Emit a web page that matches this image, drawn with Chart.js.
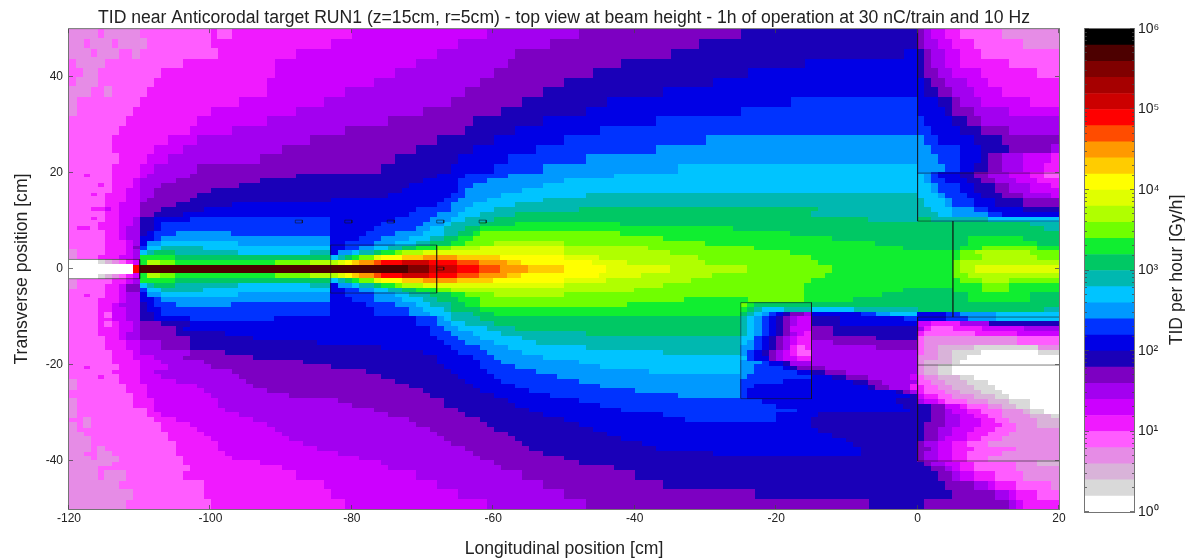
<!DOCTYPE html>
<html>
<head>
<meta charset="utf-8">
<style>
html,body{margin:0;padding:0;background:#fff;width:1185px;height:560px;overflow:hidden}
canvas{position:absolute;top:0}
</style>
<script src="https://cdn.jsdelivr.net/npm/chart.js@4/dist/chart.umd.min.js"></script>
</head>
<body>
<canvas id="map" width="1185" height="560" style="left:0"></canvas>
<canvas id="cbar" width="125" height="560" style="left:1060px"></canvas>
<script>
// colour levels, white (1 Gy/h) to black (1e6 Gy/h), 5 per decade
var levelColors = ['#ffffff','#d9d9d9','#d9b3d9','#e68ce6','#ff5cff','#f01aff','#cc00ff','#a300f0','#7d00c2','#1a00b8',
  '#0000e6','#0033ff','#0099ff','#00c4ff','#00b8b0','#00c864','#10ee30','#70ff00','#b0ff00','#e0ff00',
  '#ffff00','#ffcc00','#ff9900','#ff4c00','#ff0000','#cc0000','#a60000','#800000','#4d0000','#000000'];
var levelEdges = [1,1.58,2.51,3.98,6.31,10,15.8,25.1,39.8,63.1,100,158,251,398,631,1000,1580,2510,3980,6310,
  10000,15800,25100,39800,63100,100000,158000,251000,398000,631000,1000000];

// each row: level, x where that level ends, level, x ... starting from x=-120
// rowSpans: how many 1cm cells tall each row is, from y=50 downwards
var rowSpans = [2,2,2,2,2,2,2,2,2,2,2,2,2,2,2,
  1,1,1,1,1,1,1,1,1,1,1,1,1,1,1,1,1,1,1,1,
  1,1,1,1,1,1,1,1,1,1,1,1,1,1,1,1,1,1,1,1,1,1,1,1,1,1,1,1,1,1,1,1,1,1,1,1,1,1,1,1,1,1,
  2,2,2,2];
var rowRuns = [
[3,-116,4,-115,3,-110,4,-100,5,-99,4,-97,5,-80,6,-61,7,-48,8,-25,9,0,8,1,7,2,6,4,5,6,4,12,3,20],
[3,-118,4,-117,3,-114,4,-113,3,-109,4,-100,5,-83,6,-65,7,-52,8,-31,9,0,8,1,7,3,6,5,5,8,4,15,3,20],
[3,-117,4,-116,3,-113,4,-111,3,-110,4,-99,5,-88,6,-68,7,-57,8,-35,9,-2,10,0,9,1,8,2,7,4,6,6,5,9,4,20],
[4,-119,3,-115,4,-104,5,-91,6,-71,7,-58,8,-42,9,-16,10,0,9,1,8,2,7,4,6,6,5,13,4,20],
[4,-118,3,-116,4,-107,5,-91,6,-74,7,-60,8,-46,9,-24,10,0,9,1,8,3,7,5,6,9,5,17,4,20],
[4,-119,3,-116,4,-108,5,-92,6,-77,7,-62,8,-50,9,-29,10,1,9,2,8,4,7,7,6,10,5,20],
[3,-117,4,-115,3,-114,4,-109,5,-92,6,-81,7,-64,8,-53,9,-36,10,1,9,3,8,5,7,8,6,12,5,20],
[3,-119,4,-110,5,-96,6,-84,7,-66,8,-56,9,-44,10,-18,11,0,10,3,9,5,8,6,7,9,6,16,5,20],
[3,-119,4,-111,5,-100,6,-88,7,-70,8,-59,9,-47,10,-25,11,0,10,4,9,5,8,8,7,13,6,20],
[4,-112,5,-102,6,-92,7,-75,8,-63,9,-53,10,-37,11,1,10,5,9,7,8,9,7,20],
[4,-113,5,-103,6,-97,7,-81,8,-64,9,-57,10,-45,11,2,10,6,9,9,8,13,7,20],
[4,-114,5,-106,6,-102,7,-86,8,-68,9,-60,10,-50,11,-30,12,1,11,3,10,8,9,12,8,20],
[4,-114,5,-108,6,-104,7,-90,8,-71,9,-63,10,-54,11,-37,12,2,11,6,10,9,9,13,8,19,7,20],
[4,-113,5,-109,6,-106,7,-93,8,-74,9,-65,10,-58,11,-47,12,3,11,6,10,9,9,10,8,12,7,15,6,19,5,20],
[4,-114,5,-110,6,-108,7,-102,8,-76,9,-66,10,-60,11,-53,12,-34,13,0,12,4,11,6,10,8,9,10,8,12,7,15,6,18,5,20],
[4,-118,5,-117,4,-114,5,-110,6,-109,7,-103,8,-88,9,-68,10,-64,11,-58,12,-43,13,1,12,2,11,3,10,6,9,8,8,10,7,13,6,16,5,18,4,20],
[4,-114,5,-111,6,-110,7,-105,8,-93,9,-70,10,-65,11,-61,12,-50,13,1,12,2,11,4,10,7,9,9,8,11,7,14,6,17,5,20],
[4,-116,5,-115,4,-114,5,-111,6,-110,7,-107,8,-96,9,-72,10,-65,11,-63,12,-53,13,2,12,3,11,6,10,8,9,11,8,13,7,16,6,19,5,20],
[4,-114,5,-112,6,-110,7,-108,8,-100,9,-73,10,-65,11,-64,12,-56,13,2,12,3,11,6,10,8,9,11,8,13,7,16,6,20],
[4,-117,5,-116,4,-115,5,-112,6,-110,7,-108,8,-102,9,-75,10,-66,11,-64,12,-59,13,-47,14,0,13,3,12,4,11,7,10,9,9,12,8,15,7,19,6,20],
[4,-115,5,-112,6,-110,7,-109,8,-103,9,-83,10,-67,11,-65,12,-61,13,-53,14,1,13,4,12,5,11,8,10,11,9,15,8,20],
[4,-115,5,-113,6,-110,8,-105,9,-97,10,-68,11,-66,12,-63,13,-57,14,1,13,4,12,5,11,8,10,11,9,15,8,20],
[4,-117,5,-115,6,-114,5,-113,6,-110,8,-107,9,-101,10,-71,11,-66,12,-64,13,-60,14,-48,15,-14,14,2,13,5,12,8,11,10,10,15,9,20],
[4,-115,5,-113,6,-110,8,-108,9,-104,10,-72,11,-68,12,-65,13,-62,14,-57,15,-15,14,3,13,5,12,10,11,12,10,20],
[4,-117,5,-116,4,-115,5,-113,6,-111,7,-110,9,-108,10,-103,11,-83,10,-74,11,-69,12,-66,13,-64,14,-60,15,-7,14,0,15,2,14,10,13,20],
[4,-116,5,-113,6,-111,7,-110,9,-108,10,-107,11,-83,10,-76,11,-70,12,-67,13,-66,14,-62,15,-57,16,-42,15,16,14,20],
[4,-119,5,-117,4,-116,5,-113,6,-112,7,-110,9,-108,10,-107,11,-83,10,-77,11,-71,12,-69,13,-67,14,-64,15,-62,16,-26,15,18,14,20],
[4,-115,5,-113,6,-112,7,-110,9,-109,10,-108,11,-105,12,-97,11,-83,10,-78,11,-74,12,-70,13,-67,14,-65,15,-63,16,-62,17,-42,16,-18,15,20],
[4,-115,5,-113,6,-112,7,-110,10,-108,11,-107,12,-83,10,-79,11,-76,12,-72,13,-69,14,-67,15,-65,16,-63,17,-36,16,-12,15,7,16,15,15,20],
[4,-115,5,-112,6,-111,7,-110,10,-109,12,-107,13,-96,12,-83,10,-81,11,-77,12,-74,13,-71,14,-69,15,-66,16,-64,17,-60,18,-50,17,-30,16,-6,15,7,16,17,15,20],
[4,-115,5,-112,6,-111,8,-110,11,-109,13,-107,14,-101,13,-83,10,-81,11,-79,12,-77,13,-75,14,-73,15,-71,16,-68,17,-66,18,-62,19,-50,18,-38,17,-23,16,-2,15,6,16,9,17,17,16,20],
[3,-119,4,-115,5,-112,6,-111,7,-110,13,-109,14,-108,15,-105,14,-96,13,-86,14,-83,10,-82,12,-80,13,-79,14,-77,15,-76,16,-74,17,-73,18,-70,19,-50,18,-35,17,-18,16,6,17,8,18,16,17,20],
[3,-119,4,-116,5,-113,6,-111,7,-110,16,-105,15,-83,13,-82,14,-81,15,-80,16,-79,17,-77,19,-76,20,-73,21,-70,22,-65,21,-59,20,-50,19,-45,18,-31,17,-15,16,6,17,9,18,17,17,20],
[0,-116,1,-115,2,-114,3,-113,4,-112,5,-111,6,-110,16,-109,18,-107,17,-105,16,-91,17,-86,18,-82,19,-81,20,-80,21,-79,22,-77,23,-76,24,-73,25,-69,24,-65,23,-62,22,-58,21,-56,20,-46,19,-41,18,-30,17,-14,16,5,17,6,18,20],
[0,-111,24,-110,28,-72,27,-69,25,-65,24,-62,23,-59,22,-55,21,-50,20,-44,19,-35,18,-24,17,-12,16,5,17,6,18,8,19,20],
[0,-111,24,-110,28,-72,27,-69,25,-65,24,-62,23,-59,22,-55,21,-50,20,-44,19,-35,18,-24,17,-12,16,5,17,6,18,8,19,20],
[0,-116,1,-115,2,-114,3,-113,4,-112,5,-111,6,-110,16,-109,18,-107,17,-105,16,-91,17,-86,18,-82,19,-81,20,-80,21,-79,22,-77,23,-76,24,-73,25,-69,24,-65,23,-62,22,-58,21,-56,20,-45,19,-39,18,-29,17,-13,16,5,17,7,18,20],
[3,-119,4,-114,5,-112,6,-111,7,-110,16,-105,15,-83,13,-82,14,-81,15,-80,16,-79,17,-77,19,-76,20,-73,21,-70,22,-65,21,-60,20,-50,19,-44,18,-32,17,-15,16,6,17,9,18,13,17,20],
[3,-119,4,-115,5,-113,6,-112,8,-110,13,-109,14,-108,15,-105,14,-96,13,-86,14,-83,10,-82,12,-80,13,-79,14,-77,15,-76,16,-74,17,-73,18,-70,19,-50,18,-36,17,-16,16,9,17,13,16,20],
[4,-115,5,-113,6,-112,8,-110,11,-109,13,-107,14,-101,13,-83,10,-81,11,-79,12,-77,13,-75,14,-73,15,-71,16,-68,17,-66,18,-40,17,-16,16,-2,15,5,16,9,17,13,16,20],
[4,-118,5,-117,4,-115,5,-113,6,-112,7,-110,10,-109,12,-107,13,-96,12,-83,10,-81,11,-77,12,-74,13,-72,14,-69,15,-66,16,-64,17,-60,18,-50,17,-16,16,-5,15,7,16,16,15,20],
[4,-116,5,-113,6,-112,7,-110,10,-108,11,-107,12,-83,10,-80,11,-77,12,-73,13,-70,14,-68,15,-65,16,-62,17,-33,16,-24,17,-16,16,-9,15,7,16,16,15,20],
[4,-116,5,-114,6,-113,7,-110,9,-109,10,-108,11,-105,12,-97,11,-83,10,-78,11,-74,12,-71,13,-69,14,-66,15,-64,16,-62,17,-41,16,-25,17,-24,16,-23,15,20],
[4,-116,5,-114,6,-112,7,-110,9,-109,10,-107,11,-83,10,-77,11,-72,12,-70,13,-67,14,-66,15,-62,16,-24,15,-23,14,-22,13,-19,14,-15,13,-9,14,0,15,18,14,20],
[4,-116,5,-115,4,-114,6,-112,7,-110,9,-108,10,-107,11,-83,10,-77,11,-72,12,-69,13,-66,14,-63,15,-60,16,-25,15,-24,14,-23,13,-22,12,-21,11,-20,10,-19,9,-18,8,-16,7,-15,10,-8,11,-6,12,-4,13,0,10,4,11,6,12,11,13,20],
[4,-116,5,-114,6,-112,7,-110,9,-108,10,-103,11,-91,10,-71,11,-68,12,-67,13,-66,14,-62,15,-25,14,-24,13,-23,12,-22,11,-21,10,-20,9,-19,8,-18,7,-17,6,-15,9,-11,10,-2,11,0,10,4,11,7,12,11,13,20],
[4,-116,5,-115,4,-114,5,-113,6,-111,7,-110,8,-107,9,-103,10,-71,11,-68,12,-66,13,-64,14,-60,15,-25,14,-24,13,-23,12,-22,11,-21,10,-20,9,-19,8,-18,7,-17,6,-15,9,-11,10,0,6,2,5,6,7,10,9,20],
[4,-116,5,-113,6,-111,7,-110,8,-105,9,-104,10,-69,11,-67,12,-65,13,-61,14,-57,15,-25,14,-24,13,-23,12,-22,11,-21,10,-20,9,-19,8,-18,6,-15,8,-12,9,0,7,1,5,2,4,5,5,9,6,15,7,20],
[4,-116,5,-113,6,-112,7,-110,8,-105,9,-98,10,-69,11,-66,12,-63,13,-59,14,-47,15,-25,14,-24,13,-23,12,-22,11,-21,10,-20,9,-19,8,-18,7,-17,6,-16,5,-15,8,-12,9,0,5,1,4,8,5,14,6,20],
[4,-115,5,-113,6,-112,7,-110,8,-103,9,-94,10,-68,11,-65,12,-62,13,-56,14,-25,13,-23,11,-22,10,-21,9,-20,8,-19,7,-18,6,-17,5,-15,8,-6,9,0,4,1,3,14,4,20],
[4,-115,5,-112,6,-110,7,-107,8,-103,9,-85,10,-67,11,-64,12,-60,13,-54,14,-25,13,-24,12,-23,11,-22,10,-21,9,-20,8,-19,7,-18,6,-17,5,-15,7,-12,8,0,4,1,3,14,4,20],
[4,-115,5,-112,6,-110,7,-107,8,-103,9,-76,10,-66,11,-62,12,-58,13,-47,14,-25,12,-23,11,-22,10,-21,9,-20,8,-19,7,-18,5,-17,4,-16,5,-15,7,-6,8,0,4,1,3,3,2,8,1,17,3,20],
[4,-114,5,-111,6,-110,7,-103,8,-98,9,-70,10,-65,11,-61,12,-56,13,-36,14,-25,12,-24,11,-23,10,-22,9,-21,8,-20,7,-19,6,-18,5,-17,4,-15,7,0,4,1,3,3,2,5,1,9,0,17,1,20],
[4,-114,5,-111,6,-108,7,-104,8,-94,9,-68,10,-63,11,-60,12,-53,13,-24,11,-23,10,-21,8,-20,7,-19,6,-17,5,-15,7,0,3,3,2,5,1,7,0,20],
[4,-114,5,-110,6,-107,7,-101,8,-87,9,-68,10,-62,11,-59,12,-48,13,-25,12,-22,11,-21,10,-19,9,-18,7,0,3,1,2,5,1,6,0,20],
[4,-118,5,-117,4,-113,5,-110,6,-106,7,-100,8,-83,9,-67,10,-62,11,-57,12,-45,13,-25,12,-23,11,-19,10,-18,9,-17,8,-13,7,0,3,1,2,3,1,5,0,20],
[4,-114,5,-110,6,-108,7,-97,8,-78,9,-66,10,-61,11,-54,12,-38,13,-25,12,-23,11,-17,10,-15,9,-13,8,-10,7,0,3,1,2,3,1,5,0,20],
[4,-116,5,-115,4,-113,5,-110,6,-107,7,-96,8,-76,9,-65,10,-60,11,-51,12,-24,11,-15,10,-12,9,-10,8,-7,7,-1,6,0,4,1,3,3,2,6,1,8,0,20],
[3,-119,4,-113,5,-110,6,-105,7,-95,8,-74,9,-64,10,-59,11,-48,12,-25,11,-19,10,-9,9,-7,8,-5,7,0,4,2,3,4,2,7,1,10,0,20],
[3,-119,4,-112,5,-109,6,-102,7,-94,8,-72,9,-63,10,-57,11,-45,12,-25,11,-23,10,-7,9,-6,8,-4,7,-1,5,1,4,3,3,5,2,8,1,11,0,20],
[4,-112,5,-109,6,-101,7,-92,8,-70,9,-62,10,-55,11,-40,12,-25,11,-24,10,-3,9,-2,8,-1,7,0,5,1,4,4,3,6,2,9,1,12,0,20],
[4,-111,5,-109,6,-100,7,-89,8,-69,9,-60,10,-52,11,-34,12,-25,11,-24,10,-1,9,0,6,1,5,3,4,5,3,8,2,11,1,13,0,20],
[3,-119,4,-111,5,-108,6,-99,7,-82,8,-67,9,-58,10,-48,11,-22,10,-3,9,0,7,1,6,3,5,4,4,7,3,10,2,13,1,16,0,20],
[3,-119,4,-111,5,-108,6,-99,7,-80,8,-67,9,-57,10,-45,11,-20,10,-2,9,2,8,4,6,6,5,7,4,10,3,12,2,14,1,16,0,20],
[3,-119,4,-109,5,-108,6,-98,7,-77,8,-65,9,-55,10,-42,11,-17,10,-1,9,2,8,4,7,5,6,7,5,9,4,12,3,15,2,16,1,18,0,20],
[3,-119,4,-109,5,-107,6,-96,7,-75,8,-64,9,-53,10,-36,11,-20,10,-14,9,2,8,4,7,6,6,8,5,10,4,12,3,16,2,19,1,20],
[4,-118,3,-117,4,-108,5,-105,6,-94,7,-72,8,-62,9,-50,10,-33,11,-20,10,-15,9,2,8,4,7,6,6,9,5,11,4,13,3,17,2,20],
[3,-119,4,-118,3,-117,4,-107,5,-103,6,-92,7,-71,8,-61,9,-48,10,-15,9,1,8,4,7,6,6,9,5,12,4,14,3,17,2,20],
[3,-119,4,-107,5,-102,6,-91,7,-69,8,-60,9,-46,10,-14,9,1,8,3,7,5,6,8,5,11,4,14,3,20],
[3,-118,4,-106,5,-101,6,-90,7,-68,8,-58,9,-44,10,-12,9,1,8,3,7,5,6,7,5,10,4,13,3,20],
[3,-117,4,-106,5,-100,6,-89,7,-67,8,-57,9,-42,10,-10,9,1,8,3,7,4,6,7,5,9,4,12,3,20],
[3,-117,4,-105,5,-99,6,-87,7,-66,8,-56,9,-39,10,-9,9,0,8,1,7,3,6,5,5,7,4,10,3,20],
[3,-117,4,-116,3,-115,4,-105,5,-99,6,-85,7,-64,8,-55,9,-37,10,-8,9,0,8,2,7,3,6,5,5,8,4,14,3,20],
[3,-118,4,-116,3,-114,4,-105,5,-98,6,-82,7,-63,8,-53,9,-29,10,-8,9,0,8,1,7,3,6,5,5,7,4,12,3,20],
[3,-117,4,-116,3,-113,4,-104,5,-97,6,-79,7,-62,8,-50,9,0,8,1,7,3,6,5,5,7,4,10,3,20],
[3,-114,4,-104,5,-93,6,-76,7,-60,8,-48,9,1,8,2,7,4,6,6,5,8,4,14,3,17,2,20],
[3,-116,4,-103,5,-90,6,-75,7,-59,8,-43,9,2,8,4,7,5,6,6,5,8,4,14,3,20],
[3,-116,4,-115,3,-112,4,-104,5,-88,6,-71,7,-56,8,-40,9,3,8,5,7,6,6,8,5,11,4,15,3,20],
[3,-113,4,-101,5,-84,6,-68,7,-53,8,-36,9,4,8,8,7,10,6,11,5,14,4,19,3,20],
[3,-111,4,-101,5,-83,6,-65,7,-50,8,-23,9,5,8,11,7,13,6,14,5,17,4,20],
[3,-112,4,-100,5,-81,6,-61,7,-47,8,-7,9,1,8,13,7,14,6,15,5,20]
];

var xTicks = [-120,-100,-80,-60,-40,-20,0,20];
var yTicks = [-40,-20,0,20,40];
var cbarTicks = {1:'10\u2070',10:'10\u00b9',100:'10\u00b2',1000:'10\u00b3',10000:'10\u2074',100000:'10\u2075',1000000:'10\u2076'};

// thin geometry outlines, [x,y] corner lists in cm
var outlines = [
  [[-120,2],[-110,2],[-110,-2],[-120,-2]],
  [[-83,5],[-68,5],[-68,-5],[-83,-5],[-83,5]],
  [[-25,-7],[-15,-7],[-15,-27],[-25,-27],[-25,-7]],
  [[0,50],[0,10],[20,10]],
  [[0,20],[20,20]],
  [[5,10],[5,-10]],
  [[20,-10],[0,-10],[0,-40],[20,-40]],
  [[0,-20],[20,-20]],
  [[-88,10.2],[-87,10.2],[-87,9.6],[-88,9.6],[-88,10.2]],
  [[-81,10.2],[-80,10.2],[-80,9.6],[-81,9.6],[-81,10.2]],
  [[-75,10.2],[-74,10.2],[-74,9.6],[-75,9.6],[-75,10.2]],
  [[-68,10.2],[-67,10.2],[-67,9.6],[-68,9.6],[-68,10.2]],
  [[-62,10.2],[-61,10.2],[-61,9.6],[-62,9.6],[-62,10.2]],
  [[-68,0.4],[-67,0.4],[-67,-0.2],[-68,-0.2],[-68,0.4]]
];

var fontName = '"Liberation Sans", Arial, sans-serif';

// expand the rows into 1cm cells, one list per level
var cellsByLevel = levelColors.map(function(){ return []; });
var yTop = 50;
rowRuns.forEach(function(run, r){
  for (var s = 0; s < rowSpans[r]; s++) {
    var x = -120;
    for (var i = 0; i < run.length; i += 2) {
      for (; x < run[i+1]; x++) cellsByLevel[run[i]].push({x: x + 0.5, y: yTop - 0.5});
    }
    yTop--;
  }
});

function cellImage(color){
  var c = document.createElement('canvas');
  c.width = 8; c.height = 6;
  var g = c.getContext('2d');
  g.fillStyle = color;
  g.fillRect(0, 0, 8, 6);
  return c;
}

var lineData = [];
outlines.forEach(function(o){
  o.forEach(function(p){ lineData.push({x: p[0], y: p[1]}); });
  lineData.push({x: NaN, y: NaN});
});

var datasets = [{
  label: 'geometry', data: lineData, showLine: true, spanGaps: false,
  borderColor: 'rgba(20,20,20,0.55)', borderWidth: 1, pointRadius: 0, clip: 0, tension: 0
}];
cellsByLevel.forEach(function(cells, i){
  datasets.push({label: String(levelEdges[i]), data: cells, pointStyle: cellImage(levelColors[i]), pointRadius: 4, borderWidth: 0, clip: 0});
});

// frame and inward tick marks, like the original plot
var frameTicks = {
  id: 'frameTicks',
  afterDraw: function(chart){
    var a = chart.chartArea, g = chart.ctx;
    g.save();
    g.strokeStyle = 'rgba(70,70,70,0.75)';
    g.lineWidth = 1;
    g.strokeRect(a.left - 0.5, a.top - 0.5, a.right - a.left + 1, a.bottom - a.top + 1);
    g.beginPath();
    if (chart.scales.x && chart.scales.x.options.display) {
      chart.scales.x.ticks.forEach(function(t){
        var p = Math.round(chart.scales.x.getPixelForValue(t.value)) - 0.5;
        g.moveTo(p, a.top); g.lineTo(p, a.top + 4);
        g.moveTo(p, a.bottom); g.lineTo(p, a.bottom - 4);
      });
    }
    chart.scales.y.ticks.forEach(function(t){
      var p = Math.round(chart.scales.y.getPixelForValue(t.value)) - 0.5;
      var len = (chart.canvas.id === 'cbar' && !cbarTicks[t.value]) ? 2 : 4;
      g.moveTo(a.left, p); g.lineTo(a.left + len, p);
      g.moveTo(a.right, p); g.lineTo(a.right - len, p);
    });
    g.stroke();
    g.restore();
  }
};

new Chart(document.getElementById('map').getContext('2d'), {
  type: 'scatter',
  data: {datasets: datasets},
  plugins: [frameTicks],
  options: {
    responsive: false,
    animation: false,
    events: [],
    layout: {padding: {right: 126}},
    plugins: {
      legend: {display: false},
      tooltip: {enabled: false},
      title: {
        display: true, fullSize: false,
        text: 'TID near Anticorodal target RUN1 (z=15cm, r=5cm) - top view at beam height - 1h of operation at 30 nC/train and 10 Hz',
        color: '#222', font: {family: fontName, size: 17.6, weight: 'normal', lineHeight: 1.2},
        padding: {top: 8, bottom: 0}
      }
    },
    scales: {
      x: {
        type: 'linear', min: -120, max: 20,
        afterBuildTicks: function(s){ s.ticks = xTicks.map(function(v){ return {value: v}; }); },
        afterFit: function(s){ s.height = 51; },
        grid: {display: false, drawTicks: false, tickLength: 0},
        border: {display: false},
        ticks: {color: '#222', font: {family: fontName, size: 12}, padding: 2, maxRotation: 0, autoSkip: false},
        title: {display: true, text: 'Longitudinal position [cm]', color: '#222', font: {family: fontName, size: 17.6}, padding: {top: 12, bottom: 0}}
      },
      y: {
        type: 'linear', min: -50, max: 50,
        afterBuildTicks: function(s){ s.ticks = yTicks.map(function(v){ return {value: v}; }); },
        afterFit: function(s){ s.width = 69; },
        grid: {display: false, drawTicks: false, tickLength: 0},
        border: {display: false},
        ticks: {color: '#222', font: {family: fontName, size: 12}, padding: 6, autoSkip: false},
        title: {display: true, text: 'Transverse position [cm]', color: '#222', font: {family: fontName, size: 17.6}, padding: {top: 12, bottom: 0}}
      }
    }
  }
});

// colour bar, one floating bar per level on a log axis
var cbarSets = levelColors.map(function(col, i){
  return {data: [[levelEdges[i], levelEdges[i+1]]], backgroundColor: col, borderWidth: 0, barPercentage: 1, categoryPercentage: 1, grouped: false};
});

var cbarTitle = {
  id: 'cbarTitle',
  afterDraw: function(chart){
    var g = chart.ctx;
    g.save();
    g.translate(117, 270);
    g.rotate(-Math.PI / 2);
    g.textAlign = 'center';
    g.textBaseline = 'middle';
    g.fillStyle = '#222';
    g.font = '17.6px ' + fontName;
    g.fillText('TID per hour [Gy/h]', 0, 0);
    g.restore();
  }
};

new Chart(document.getElementById('cbar').getContext('2d'), {
  type: 'bar',
  data: {labels: ['TID'], datasets: cbarSets},
  plugins: [frameTicks, cbarTitle],
  options: {
    responsive: false,
    animation: false,
    events: [],
    layout: {padding: {left: 25, top: 29, bottom: 48}},
    plugins: {legend: {display: false}, tooltip: {enabled: false}},
    scales: {
      x: {display: false},
      y: {
        type: 'logarithmic', position: 'right', min: 1, max: 1000000,
        afterFit: function(s){ s.width = 51; },
        grid: {display: false, drawTicks: false, tickLength: 0},
        border: {display: false},
        ticks: {
          color: '#222', font: {family: fontName, size: 14}, padding: 4, autoSkip: false,
          callback: function(v){ return cbarTicks[v] || ''; }
        }
      }
    }
  }
});
</script>
</body>
</html>
